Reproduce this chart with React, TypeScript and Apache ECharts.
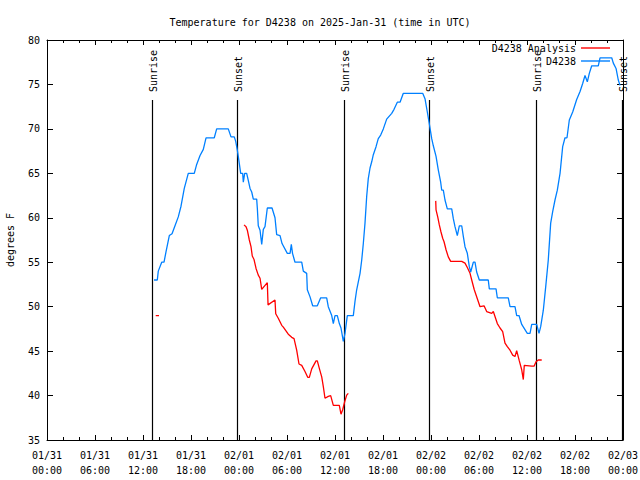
import React, { useEffect, useRef } from 'react';
import * as echarts from 'echarts';

const FONT = '"DejaVu Sans Mono", "Liberation Mono", monospace';

const titleText = 'Temperature for D4238 on 2025-Jan-31 (time in UTC)';
const yAxisName = 'degrees F';

// x tick labels, one per 6 hours from 01/31 00:00 UTC
const xTickLabels = [
  '01/31\n00:00', '01/31\n06:00', '01/31\n12:00', '01/31\n18:00',
  '02/01\n00:00', '02/01\n06:00', '02/01\n12:00', '02/01\n18:00',
  '02/02\n00:00', '02/02\n06:00', '02/02\n12:00', '02/02\n18:00',
  '02/03\n00:00',
];

// sun events (hours since 01/31 00:00 UTC)
const sunHours = [13.16, 23.79, 37.13, 47.79, 61.16, 71.83];
const sunLabels = ['Sunrise', 'Sunset', 'Sunrise', 'Sunset', 'Sunrise', 'Sunset'];

// D4238 observations
const stationHours = [
  13.38, 13.79, 13.91, 14.34, 14.63, 14.88, 15.29, 15.63, 16.0, 16.41,
  16.75, 17.16, 17.66, 18.41, 18.71, 19.13, 19.54, 19.88, 20.91, 21.21,
  22.66, 23.0, 23.41, 23.59, 23.79, 23.91, 24.04, 24.21, 24.46, 24.54,
  24.71, 24.96, 25.16, 25.38, 25.59, 25.79, 26.21, 26.29, 26.41, 26.63,
  26.84, 27.04, 27.25, 27.54, 28.13, 28.5, 28.71, 29.13, 29.38, 30.04,
  30.38, 30.54, 30.69, 31.0, 31.84, 32.04, 32.46, 32.54, 32.88, 33.21,
  33.79, 34.21, 34.96, 35.16, 35.59, 35.79, 36.0, 36.29, 36.54, 36.75,
  37.04, 37.25, 37.54, 38.29, 38.5, 38.71, 39.13, 39.34, 39.54, 39.75,
  39.96, 40.16, 40.38, 40.59, 40.79, 41.13, 41.41, 41.71, 42.04, 42.46,
  43.09, 43.38, 43.79, 44.13, 44.54, 46.96, 47.25, 47.54, 47.75, 48.09,
  48.29, 48.63, 48.91, 49.21, 49.34, 49.54, 49.75, 50.04, 50.59, 50.79,
  51.0, 51.29, 51.54, 51.84, 52.04, 52.25, 52.54, 52.79, 52.96, 53.29,
  53.5, 53.71, 54.04, 55.16, 55.29, 56.13, 56.29, 57.66, 57.88, 58.5,
  58.71, 59.0, 59.34, 60.04, 60.38, 60.59, 61.21, 61.5, 61.71, 62.04,
  62.34, 62.66, 62.96, 63.21, 63.5, 63.79, 64.13, 64.46, 64.75, 65.0,
  65.29, 65.71, 66.21, 66.63, 66.96, 67.25, 67.54, 67.79, 68.09, 68.91,
  69.13, 70.59, 70.79, 71.13, 71.41, 71.63,
];
const stationTemps = [
  53, 53, 54, 55, 55, 56.2, 58, 58.2, 59.1, 60.1,
  61.3, 63.3, 65, 65, 66, 67, 67.7, 69, 69, 70,
  70, 69.1, 69.1, 68.6, 67.6, 66.9, 66.1, 65, 65, 64,
  65, 65, 64.2, 63.3, 62.9, 62.1, 62.1, 61.1, 59.1, 58.6,
  57, 58.7, 59, 61.1, 61.1, 60, 58.1, 58, 57.1, 56,
  56, 57, 56, 55, 55, 54, 53.75, 51.9, 51.1, 50.1,
  50.1, 51, 51, 50, 49, 48.1, 49, 49, 48.1, 47.6,
  46.1, 47, 49, 49, 50.6, 51.9, 53.75, 55.25, 57.1, 59.4,
  62.4, 64.4, 65.6, 66.3, 67.1, 68, 68.9, 69.3, 70, 71.1,
  71.75, 72.2, 73, 73, 74, 74, 73.4, 71.9, 70.8, 68.9,
  68.1, 66.9, 65.4, 64, 63.1, 63.1, 62, 61, 61, 59.9,
  59, 58, 59.1, 59.1, 57.9, 56.75, 56, 54.5, 53.9, 55,
  55, 53.9, 53, 53, 52, 52, 51, 51, 50, 50,
  49, 49, 48, 47, 47, 48, 48, 47, 47.75, 49.6,
  52.25, 55.25, 59.4, 60.7, 62, 63.1, 65, 68, 69, 69,
  71, 71.9, 73.3, 74.2, 75.1, 76, 75.3, 76.25, 77.1, 77.1,
  78, 78, 77.4, 76.8, 75.5, 74.9,
];

// D4238 Analysis (null = gap)
const analysisHours = [
  13.59, 14.0, 14.3,
  24.63, 24.88, 25.04, 25.29, 25.5, 25.66, 25.88, 26.13, 26.41, 26.63,
  26.84, 27.54, 27.63, 28.5, 28.59, 28.91, 29.34, 29.54, 30.16, 30.59,
  30.88, 31.21, 31.5, 31.84, 32.25, 32.59, 32.79, 33.09, 33.63, 33.79,
  34.04, 34.34, 34.54, 34.75, 35.16, 35.46, 35.79, 36.54, 36.75, 36.96,
  37.21, 37.46, 37.66, 40.0,
  48.59, 48.63, 48.84, 49.04, 49.25, 49.46, 49.63, 49.88, 50.16, 50.46,
  51.84, 52.25, 52.54, 52.88, 53.09, 53.41, 54.13, 54.63, 54.96, 55.59,
  55.79, 56.29, 56.63, 56.96, 57.25, 57.54, 57.88, 58.21, 58.5, 58.71,
  59.04, 59.34, 59.54, 59.66, 60.59, 60.88, 61.13, 61.41, 61.84,
];
const analysisTemps = [
  49, 49, null,
  59.2, 59, 58.6, 57.5, 56.75, 55.7, 55.3, 54.3, 53.55, 53.2,
  51.95, 52.7, 50.2, 50.75, 49.2, 48.7, 47.9, 47.7, 46.9, 46.55,
  46.4, 45.1, 43.55, 43.4, 42.7, 42.05, 42.05, 43, 43.9, 43.9,
  43.06, 42.1, 41, 39.7, 39.9, 40, 38.9, 38.9, 37.9, 38.4,
  39.3, 40.05, 40.25, null,
  61.9, 60.9, 60.1, 59.2, 58.4, 57.7, 57.3, 56.4, 55.6, 55.1,
  55.1, 54.9, 54.4, 53.75, 53, 51.9, 50, 50.1, 49.45, 49.25,
  49.45, 48.1, 47.6, 47.2, 45.9, 45.5, 45.1, 44.55, 44.4, 45.05,
  43.9, 42.9, 41.8, 43.4, 43.3, 43.3, 43.8, 44, 44,
];

const Y_MIN = 35;
const Y_MAX = 80;
const X_MIN = 0;
const X_MAX = 72;

export default function App() {
  const ref = useRef<HTMLDivElement>(null);

  useEffect(() => {
    document.body.style.margin = '0';
    if (!ref.current) return;
    const chart = echarts.init(ref.current, undefined, { renderer: 'svg' });

    const txt = { fontFamily: FONT, fontSize: 10, color: '#000' };
    const axisLineStyle = { color: '#000', width: 1 };

    const legendBase = {
      right: 30,
      orient: 'vertical',
      align: 'right',
      icon: 'rect',
      itemWidth: 29,
      itemHeight: 1.4,
      padding: 0,
      textStyle: txt,
    };

    const option: any = {
      animation: false,
      backgroundColor: '#fff',
      title: {
        text: titleText,
        left: 'center',
        top: 12,
        textStyle: { ...txt, fontWeight: 'normal' },
      },
      grid: {
        left: 47,
        right: 17,
        top: 40,
        bottom: 40,
        containLabel: false,
        outerBoundsMode: 'none',
      },
      legend: [
        { ...legendBase, data: ['D4238 Analysis'], top: 43 },
        { ...legendBase, data: ['D4238'], top: 56 },
      ],
      xAxis: [
        {
          type: 'value',
          min: X_MIN,
          max: X_MAX,
          interval: 6,
          position: 'bottom',
          axisLine: { show: true, onZero: false, lineStyle: axisLineStyle },
          axisTick: { show: true, inside: true, length: 5, lineStyle: axisLineStyle },
          minorTick: { show: true, splitNumber: 3, length: 3, lineStyle: axisLineStyle },
          splitLine: { show: false },
          axisLabel: {
            ...txt,
            margin: 8,
            lineHeight: 15,
            formatter: (v: number) => xTickLabels[Math.round(v / 6)] ?? '',
          },
        },
        {
          type: 'value',
          min: X_MIN,
          max: X_MAX,
          interval: 6,
          position: 'top',
          axisLine: { show: true, onZero: false, lineStyle: axisLineStyle },
          axisTick: { show: true, inside: true, length: 5, lineStyle: axisLineStyle },
          minorTick: { show: true, splitNumber: 3, length: 3, lineStyle: axisLineStyle },
          splitLine: { show: false },
          axisLabel: { show: false },
        },
      ],
      yAxis: [
        {
          type: 'value',
          min: Y_MIN,
          max: Y_MAX,
          interval: 5,
          position: 'left',
          name: yAxisName,
          nameLocation: 'middle',
          nameGap: 32,
          nameRotate: 90,
          nameTextStyle: txt,
          axisLine: { show: true, onZero: false, lineStyle: axisLineStyle },
          axisTick: { show: true, inside: true, length: 6, lineStyle: axisLineStyle },
          splitLine: { show: false },
          axisLabel: { ...txt, margin: 7 },
        },
        {
          type: 'value',
          min: Y_MIN,
          max: Y_MAX,
          interval: 5,
          position: 'right',
          axisLine: { show: true, onZero: false, lineStyle: axisLineStyle },
          axisTick: { show: true, inside: true, length: 6, lineStyle: axisLineStyle },
          splitLine: { show: false },
          axisLabel: { show: false },
        },
      ],
      series: [
        {
          name: 'D4238 Analysis',
          type: 'line',
          symbol: 'none',
          showSymbol: false,
          connectNulls: false,
          color: '#ff0000',
          lineStyle: { color: '#ff0000', width: 1.3 },
          data: analysisHours.map((h, i) => [h, analysisTemps[i] == null ? '-' : analysisTemps[i]]),
          z: 3,
        },
        {
          name: 'D4238',
          type: 'line',
          symbol: 'none',
          showSymbol: false,
          color: '#0080ff',
          lineStyle: { color: '#0080ff', width: 1.3 },
          data: stationHours.map((h, i) => [h, stationTemps[i]]),
          z: 3,
        },
        {
          name: 'sun',
          type: 'custom',
          clip: false,
          silent: true,
          z: 2,
          data: sunHours.map((h) => [h, Y_MIN]),
          renderItem: (params: any, api: any) => {
            const t = api.value(0);
            const bottom = api.coord([t, Y_MIN]);
            const top = api.coord([t, Y_MAX]);
            const x = Math.round(bottom[0]) + 0.5;
            return {
              type: 'group',
              children: [
                {
                  type: 'line',
                  shape: { x1: x, y1: bottom[1], x2: x, y2: top[1] + 60 },
                  style: { stroke: '#000', lineWidth: 1.2 },
                },
                {
                  type: 'text',
                  x: x + 1,
                  y: top[1] + 52,
                  rotation: Math.PI / 2,
                  style: {
                    text: sunLabels[params.dataIndex],
                    font: `10px ${FONT}`,
                    fill: '#000',
                    align: 'left',
                    verticalAlign: 'middle',
                  },
                },
              ],
            };
          },
        },
      ],
    };

    chart.setOption(option);
    return () => chart.dispose();
  }, []);

  return <div ref={ref} style={{ width: 640, height: 480 }} />;
}
